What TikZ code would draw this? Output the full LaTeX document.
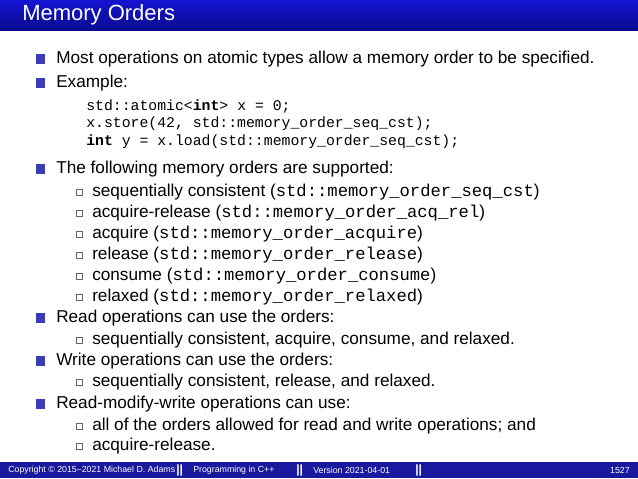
\documentclass[tikz,border=0pt]{standalone}
\usepackage{fontspec}
\setmainfont{Liberation Sans}
\setmonofont{Liberation Mono}
\definecolor{bar}{RGB}{20,20,210}
\definecolor{bardark}{RGB}{10,10,140}
\definecolor{foot}{RGB}{25,25,160}
\definecolor{bul}{RGB}{60,60,180}
\begin{document}
\begin{tikzpicture}[x=0.75pt,y=-0.75pt,
  txt/.style={anchor=west,inner sep=0pt,font=\fontsize{12.9}{14}\selectfont},
  code/.style={anchor=west,inner sep=0pt,font=\fontsize{11.1}{13}\ttfamily},
  ft/.style={anchor=west,inner sep=0pt,text=white,font=\fontsize{6.6}{8}\selectfont},
  bsq/.style={fill=bul,minimum size=6.8pt,inner sep=0pt},
  ssq/.style={draw=black!60,line width=0.5pt,minimum size=4.6pt,inner sep=0pt}]
\useasboundingbox (0,0) rectangle (638,478);
\shade[top color=bar,bottom color=bardark] (0,0) rectangle (638,31);
\node[anchor=west,inner sep=0pt,text=white,font=\fontsize{16.5}{18}\selectfont] (title) at (22,15) {Memory Orders};
\fill[foot] (0,462) rectangle (638,478);
\foreach \n/\y/\t in {b1/59/{Most operations on atomic types allow a memory order to be specified.},
  b2/83/{Example:},
  b3/169/{The following memory orders are supported:},
  b4/318/{Read operations can use the orders:},
  b5/361/{Write operations can use the orders:},
  b6/404/{Read-modify-write operations can use:}}{
  \node[bsq] (s\n) at (40.5,\y) {};
  \node[txt] (\n) at (56,\y) {\t};
}
\node[code] (c1) at (86,106) {std::atomic<\textbf{int}> x = 0;};
\node[code] (c2) at (86,124) {x.store(42, std::memory\_order\_seq\_cst);};
\node[code] (c3) at (86,142) {\textbf{int} y = x.load(std::memory\_order\_seq\_cst);};
\foreach \n/\y/\t in {
  a1/192/{sequentially consistent (\texttt{std::memory\_order\_seq\_cst})},
  a2/213/{acquire-release (\texttt{std::memory\_order\_acq\_rel})},
  a3/234/{acquire (\texttt{std::memory\_order\_acquire})},
  a4/255/{release (\texttt{std::memory\_order\_release})},
  a5/276/{consume (\texttt{std::memory\_order\_consume})},
  a6/297/{relaxed (\texttt{std::memory\_order\_relaxed})},
  a7/340/{sequentially consistent, acquire, consume, and relaxed.},
  a8/382/{sequentially consistent, release, and relaxed.},
  a9/426/{all of the orders allowed for read and write operations; and},
  a10/446/{acquire-release.}}{
  \node[ssq] (q\n) at (79,\y) {};
  \node[txt] (\n) at (92,\y) {\t};
}
\node[ft] (f1) at (8,470) {Copyright © 2015–2021 Michael D. Adams};
\node[ft,font=\fontsize{9}{10}\bfseries] (f2) at (176,470) {||};
\node[ft] (f3) at (193,470) {Programming in C++};
\node[ft,font=\fontsize{9}{10}\bfseries] (f4) at (296,470) {||};
\node[ft] (f5) at (313,470) {Version 2021-04-01};
\node[ft,font=\fontsize{9}{10}\bfseries] (f6) at (415,470) {||};
\node[ft,anchor=east] (f7) at (630,470) {1527};
\end{tikzpicture}
\end{document}
